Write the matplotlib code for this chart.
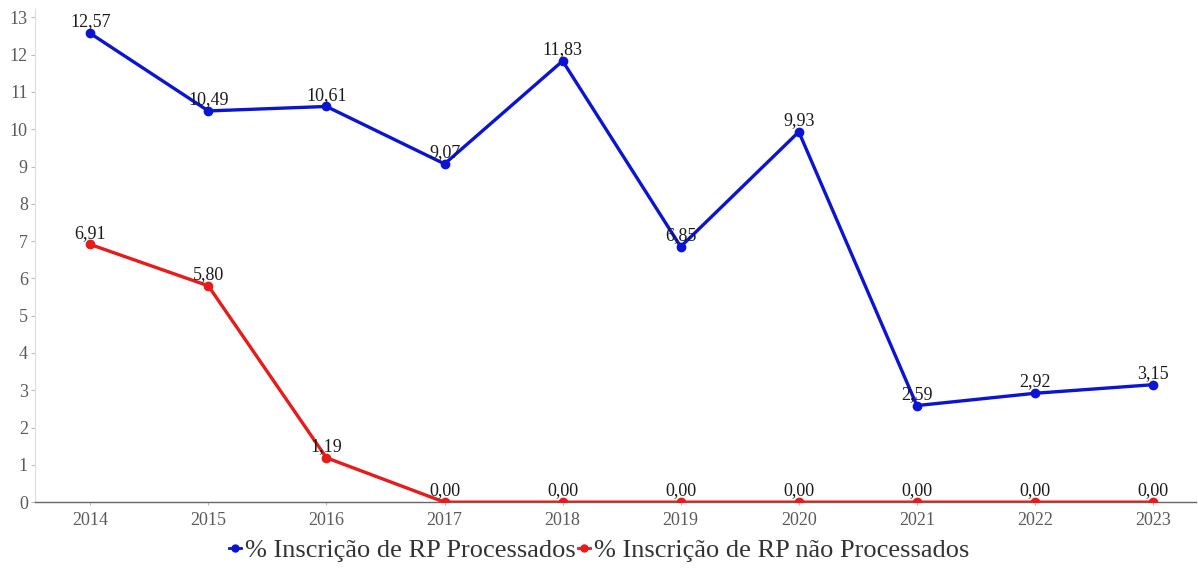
import matplotlib.pyplot as plt
from matplotlib.lines import Line2D

anos = ['2014', '2015', '2016', '2017', '2018', '2019', '2020', '2021', '2022', '2023']
rp_processados = [12.57, 10.49, 10.61, 9.07, 11.83, 6.85, 9.93, 2.59, 2.92, 3.15]
rp_nao_processados = [6.91, 5.80, 1.19, 0.00, 0.00, 0.00, 0.00, 0.00, 0.00, 0.00]

plt.rcParams['font.family'] = ['Liberation Serif', 'DejaVu Serif']

fig = plt.figure(figsize=(11.98, 5.70), dpi=100)
ax = fig.add_axes([0.029, 0.119, 0.969, 0.865])

x = list(range(len(anos)))
series = [(rp_processados, '#0a14d2', '% Inscrição de RP Processados'),
          (rp_nao_processados, '#e81a1a', '% Inscrição de RP não Processados')]
for vals, cor, nome in series:
    ax.plot(x, vals, color=cor, lw=2.4, marker='o', ms=6, label=nome, zorder=3)
    for xi, v in zip(x, vals):
        ax.annotate(f'{v:.2f}'.replace('.', ','), (xi, v), xytext=(0, 2),
                    textcoords='offset points', ha='center', va='bottom',
                    fontsize=13, color='#1a1a1a', zorder=4)

ax.set_xlim(-0.47, 9.36)
ax.set_ylim(0, 13.22)
ax.set_xticks(x)
ax.set_xticklabels(anos)
ax.set_yticks(range(0, 14))
ax.tick_params(axis='both', labelsize=13, labelcolor='#5a5a5a', color='#bbbbbb', length=3)
ax.tick_params(axis='x', length=2, pad=5)
ax.tick_params(axis='y', pad=2)

for s in ['top', 'right']:
    ax.spines[s].set_visible(False)
ax.spines['left'].set_color('#dddddd')
ax.spines['bottom'].set_color('#666666')
ax.spines['bottom'].set_linewidth(1.0)

handles = [Line2D([], [], color=c, lw=2.0, marker='o', ms=5) for _, c, _ in series]
fig.legend(handles, [n for _, _, n in series], loc='center', bbox_to_anchor=(0.5, 0.034),
           ncol=2, frameon=False, fontsize=19, handlelength=0.45, handletextpad=0.15,
           columnspacing=0.1, labelcolor='#333333')

fig.savefig('out.png', dpi=100)
